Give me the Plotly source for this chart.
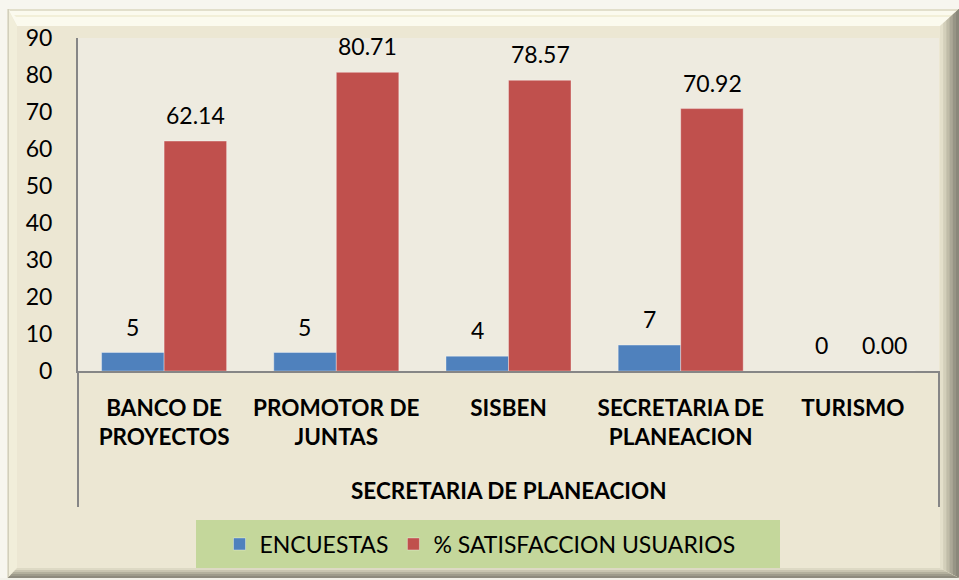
import plotly.graph_objects as go

categories = ["BANCO DE PROYECTOS", "PROMOTOR DE JUNTAS", "SISBEN", "SECRETARIA DE PLANEACION", "TURISMO"]
tick_labels = ["BANCO DE<br>PROYECTOS", "PROMOTOR DE<br>JUNTAS", "SISBEN", "SECRETARIA DE<br>PLANEACION", "TURISMO"]
encuestas = [5, 5, 4, 7, 0]
satisfaccion = [62.14, 80.71, 78.57, 70.92, 0.00]
group_label = "SECRETARIA DE PLANEACION"
series_names = ["ENCUESTAS", "% SATISFACCION USUARIOS"]

W, H = 959, 580
ML, MR, MT, MB = 78, 20, 38, 209
PW = W - ML - MR
PH = H - MT - MB
FONT = "Lato, Carlito, Calibri, sans-serif"

def px(x):
    return (x - ML) / PW

def py(y):
    return (H - MB - y) / PH

fig = go.Figure()
fig.add_trace(go.Bar(x=categories, y=encuestas, name=series_names[0],
                     marker=dict(color="#4F81BD", line=dict(color="rgba(255,255,255,0.35)", width=1))))
fig.add_trace(go.Bar(x=categories, y=satisfaccion, name=series_names[1],
                     marker=dict(color="#C0504D", line=dict(color="rgba(255,255,255,0.35)", width=1))))

annotations = []
for c, v in zip(categories, encuestas):
    annotations.append(dict(x=c, y=v, xref="x", yref="y", text=f"{v:d}", showarrow=False,
                            xshift=-31.5, yshift=26, yanchor="middle",
                            font=dict(family=FONT, size=23, color="#000000")))
for c, v in zip(categories, satisfaccion):
    annotations.append(dict(x=c, y=v, xref="x", yref="y", text=f"{v:.2f}", showarrow=False,
                            xshift=31.5, yshift=26, yanchor="middle",
                            font=dict(family=FONT, size=23, color="#000000")))
annotations.append(dict(x=0.5, y=py(490), xref="paper", yref="paper", text=f"<b>{group_label}</b>",
                        showarrow=False, yanchor="middle", xanchor="center",
                        font=dict(family=FONT, size=22.5, color="#000000")))

def rect(x0, y0, x1, y1, fill, line=None, lw=0, layer="below"):
    return dict(type="rect", xref="paper", yref="paper", x0=px(x0), x1=px(x1), y0=py(y0), y1=py(y1),
                fillcolor=fill, line=dict(color=line or fill, width=lw), layer=layer)

def poly(pts, fill, layer="below"):
    path = "M " + " L ".join(f"{px(x)},{py(y)}" for x, y in pts) + " Z"
    return dict(type="path", xref="paper", yref="paper", path=path, fillcolor=fill,
                line=dict(width=0), layer=layer)

shapes = []
# outside strips
shapes.append(rect(0, 0, W, 9, "#F7F6EF"))
shapes.append(rect(0, 0, 7.5, H, "#F7F6EF"))
# top bevel
shapes.append(poly([(8, 9), (W, 9), (940, 26), (17, 26)], "#FBFAEE"))
shapes.append(poly([(8, 9), (W, 9), (W, 11), (10, 11)], "#E2DFCB"))
shapes.append(poly([(14, 15), (W, 15), (W, 17), (16, 17)], "#F2EFD8"))
# left bevel
shapes.append(poly([(8, 9), (17, 26), (17, 568), (8, 578)], "#F1EEDA"))
shapes.append(rect(7.5, 9, 9, 578, "#D2CFBC"))
# right bevel gradient
rc = ["#E3DFCA", "#D3CFBA", "#C0BCA8", "#ABA897", "#979586", "#8A887B"]
for i, c in enumerate(rc):
    x0 = 940 + i * 3.2
    shapes.append(poly([(x0, 26 - i * 2.8), (W, 9), (W, 578), (x0, 568 + i * 1.6)], c))
# bottom bevel gradient
bc = ["#DDD9C4", "#C9C5B1", "#B3B09D", "#9E9B8B", "#8E8B7E"]
for i, c in enumerate(bc):
    y0 = 568 + i * 2
    shapes.append(poly([(17 - i * 1.8, y0), (940 + i * 3.4, y0), (W, 578), (8, 578)], c))
shapes.append(rect(0, 578, W, H, "#F2F1E9"))
# plot area background
shapes.append(rect(ML, MT, W - MR, H - MB, "#EEEBE0"))
# legend box
shapes.append(rect(196, 520, 780, 568, "#C4D79B"))
# category axis extension lines
shapes.append(dict(type="line", xref="paper", yref="paper", x0=0, x1=0, y0=0, y1=py(507),
                   line=dict(color="#868686", width=2), layer="above"))
shapes.append(dict(type="line", xref="paper", yref="paper", x0=1, x1=1, y0=0, y1=py(507),
                   line=dict(color="#868686", width=2), layer="above"))

fig.update_layout(
    width=W, height=H,
    margin=dict(l=ML, r=MR, t=MT, b=MB, autoexpand=False),
    paper_bgcolor="#ECE7D3",
    plot_bgcolor="rgba(0,0,0,0)",
    barmode="group", bargap=0.274, bargroupgap=0,
    font=dict(family=FONT, size=23, color="#000000"),
    showlegend=True,
    legend=dict(orientation="h", x=px(480), xanchor="center", y=py(544), yanchor="middle",
                bgcolor="rgba(0,0,0,0)", font=dict(family=FONT, size=23, color="#000000"),
                itemwidth=30),
    xaxis=dict(type="category", range=[-0.5, 4.5], tickvals=categories, ticktext=tick_labels,
               showline=True, linecolor="#868686", linewidth=2, ticks="", showgrid=False,
               tickfont=dict(family=FONT, size=22.5, color="#000000", weight="bold"),
               ticklabelstandoff=16, tickangle=0, fixedrange=True, automargin=False),
    yaxis=dict(range=[0, 90], dtick=10, tick0=0, showline=True, linecolor="#868686", linewidth=2,
               ticks="", showgrid=False, zeroline=False,
               tickfont=dict(family=FONT, size=23, color="#000000"),
               ticklabelstandoff=19, fixedrange=True, automargin=False),
    shapes=shapes,
    annotations=annotations,
)

fig.write_html("out.html", config={"displayModeBar": False},
               post_script="document.body.style.margin='0';document.body.style.overflow='hidden';")
